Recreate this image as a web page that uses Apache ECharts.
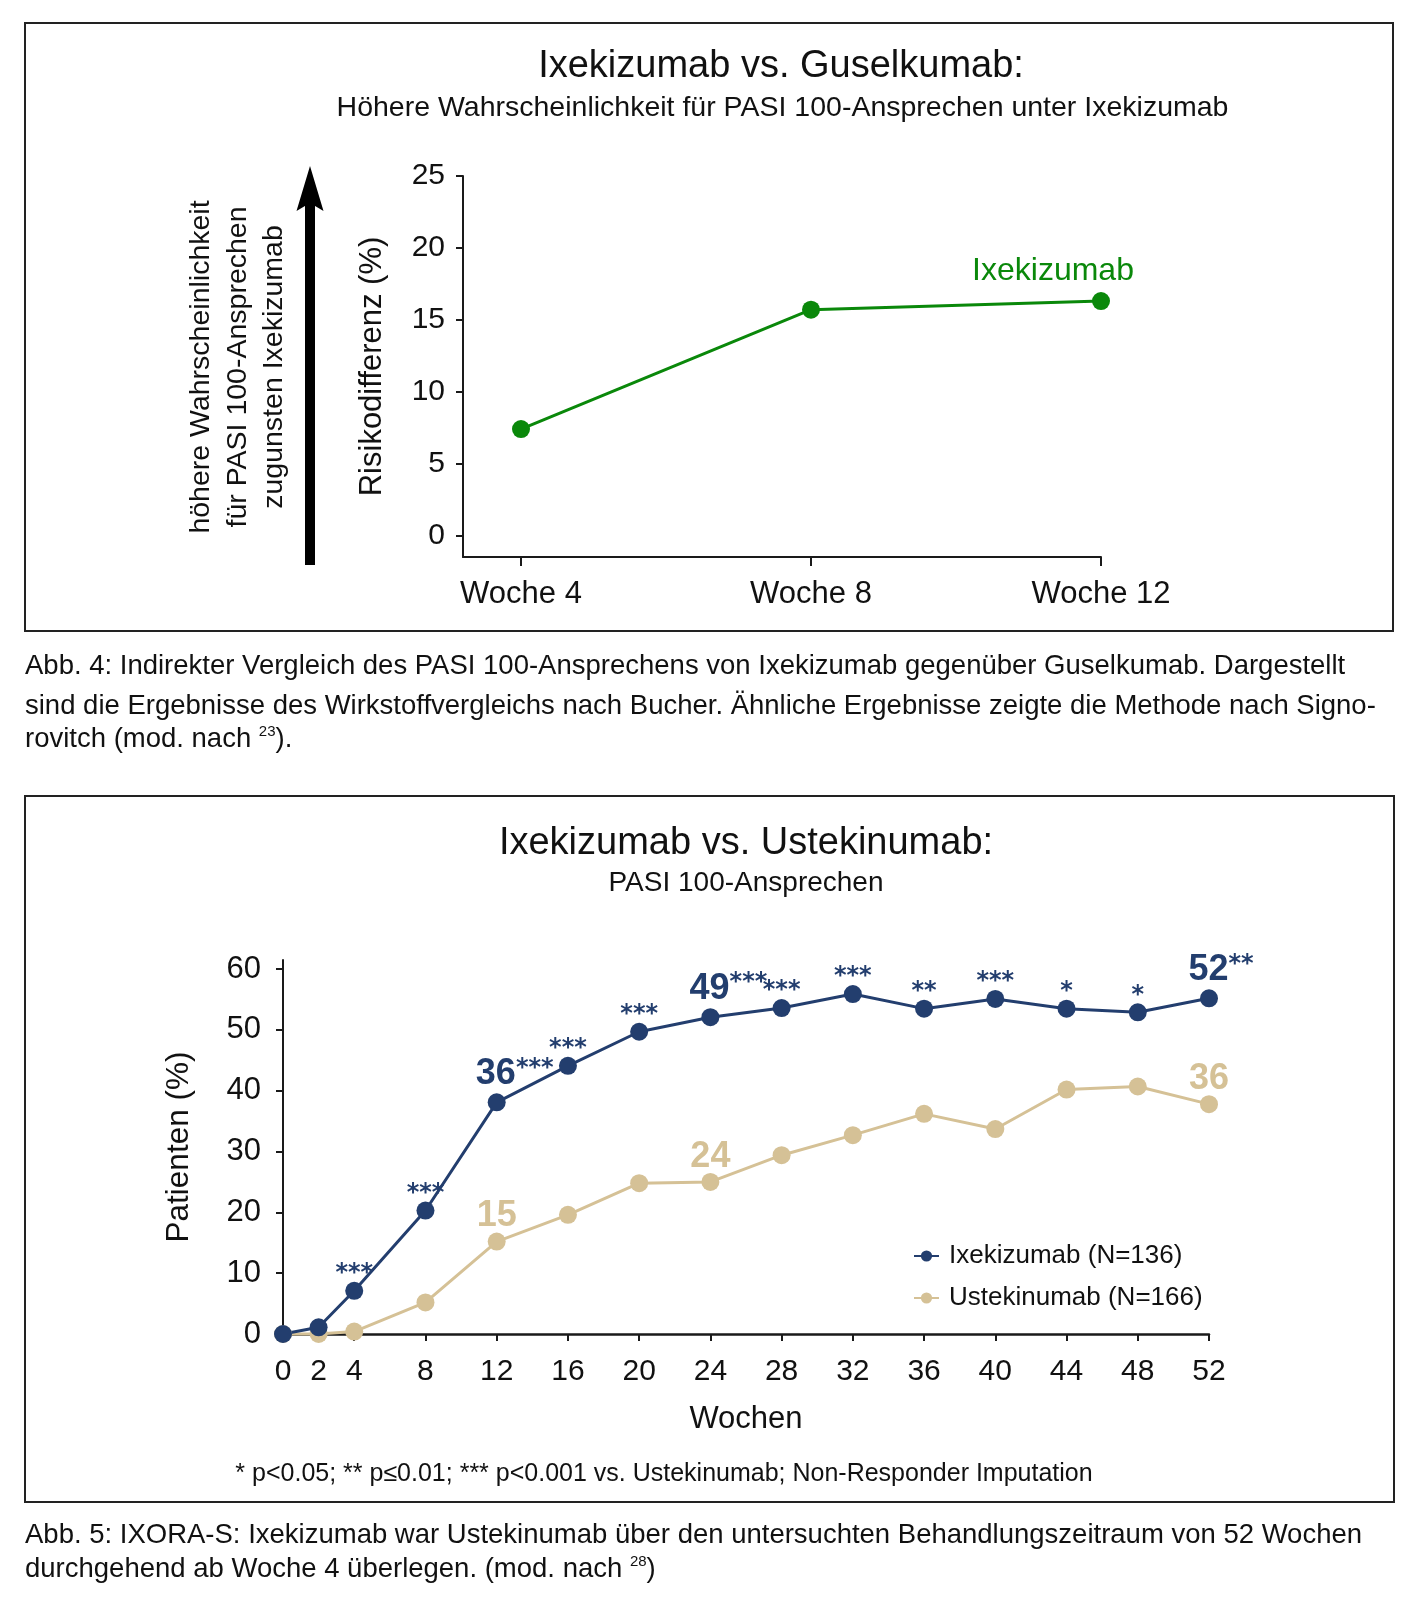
<!DOCTYPE html>
<html>
<head>
<meta charset="utf-8">
<script src="https://cdn.jsdelivr.net/npm/echarts@6/dist/echarts.min.js"></script>
<style>
  html, body { margin: 0; padding: 0; background: #ffffff; }
  #chart { width: 1424px; height: 1600px; }
</style>
</head>
<body>
<div id="chart"></div>
<script>
// ---- Figure 4 data (Ixekizumab vs. Guselkumab) ----
const topCategories = ['Woche 4', 'Woche 8', 'Woche 12'];
const topWeeks = [4, 8, 12];
const riskDiff = [7.4, 15.7, 16.3];
const topPointLabels = ['', '', 'Ixekizumab'];
const topYTicks = [0, 5, 10, 15, 20, 25];

// ---- Figure 5 data (Ixekizumab vs. Ustekinumab) ----
const weeks = [0, 2, 4, 8, 12, 16, 20, 24, 28, 32, 36, 40, 44, 48, 52];
const ixeValues = [0, 1.1, 7.1, 20.3, 38.1, 44.1, 49.7, 52.1, 53.6, 55.9, 53.5, 55.1, 53.5, 52.9, 55.2];
const ustValues = [0, 0, 0.4, 5.2, 15.2, 19.6, 24.8, 25.0, 29.4, 32.7, 36.2, 33.7, 40.2, 40.7, 37.8];
const ixeStars = ['', '', '***', '***', '***', '***', '***', '***', '***', '***', '**', '***', '*', '*', '**'];
const ixeCallouts = ['', '', '', '', '36', '', '', '49', '', '', '', '', '', '', '52'];
const ustCallouts = ['', '', '', '', '15', '', '', '24', '', '', '', '', '', '', '36'];
const bottomYTicks = [0, 10, 20, 30, 40, 50, 60];
const ixeName = 'Ixekizumab (N=136)';
const ustName = 'Ustekinumab (N=166)';

// ---- Texts ----
const title4 = 'Ixekizumab vs. Guselkumab:';
const subtitle4 = 'Höhere Wahrscheinlichkeit für PASI 100-Ansprechen unter Ixekizumab';
const arrowText = ['höhere Wahrscheinlichkeit', 'für PASI 100-Ansprechen', 'zugunsten Ixekizumab'];
const title5 = 'Ixekizumab vs. Ustekinumab:';
const subtitle5 = 'PASI 100-Ansprechen';
const footnote5 = '* p<0.05; ** p≤0.01; *** p<0.001 vs. Ustekinumab; Non-Responder Imputation';
const caption4 = [
  'Abb. 4: Indirekter Vergleich des PASI 100-Ansprechens von Ixekizumab gegenüber Guselkumab. Dargestellt',
  'sind die Ergebnisse des Wirkstoffvergleichs nach Bucher. Ähnliche Ergebnisse zeigte die Methode nach Signo-'
];
const caption4Last = ['rovitch (mod. nach ', '23', ').'];
const caption5 = ['Abb. 5: IXORA-S: Ixekizumab war Ustekinumab über den untersuchten Behandlungszeitraum von 52 Wochen'];
const caption5Last = ['durchgehend ab Woche 4 überlegen. (mod. nach ', '28', ')'];

const FONT = '"Liberation Sans", Arial, Helvetica, sans-serif';
const STARFONT = '"DejaVu Sans", "Liberation Sans", sans-serif';
const GREEN = '#0a880a';
const NAVY = '#233e6e';
const TAN = '#d5c196';
const INK = '#111111';
const AXIS = '#1a1a1a';
const STAR_SIZE = 24;
const STAR_W = STAR_SIZE * 0.5;

const chart = echarts.init(document.getElementById('chart'), null, { renderer: 'canvas' });

function txt(x, y, text, size, opts) {
  opts = opts || {};
  return {
    type: 'text', x: x, y: y, rotation: opts.rotation || 0, z: 10,
    style: {
      text: text, fontSize: size, fontFamily: FONT, fill: opts.fill || INK,
      fontWeight: opts.weight || 'normal',
      align: opts.align || 'center', verticalAlign: 'middle',
      rich: opts.rich
    }
  };
}

const graphics = [
  { type: 'rect', shape: { x: 25, y: 23, width: 1368, height: 608 }, style: { fill: 'none', stroke: '#222', lineWidth: 2 }, z: 1 },
  { type: 'rect', shape: { x: 25, y: 796, width: 1369, height: 706 }, style: { fill: 'none', stroke: '#222', lineWidth: 2 }, z: 1 },
  txt(781, 67, title4, 38),
  txt(782.5, 108, subtitle4, 28.5),
  txt(746, 844, title5, 38),
  txt(746, 883, subtitle5, 28),
  txt(664, 1474, footnote5, 25),
  // arrow
  { type: 'line', shape: { x1: 310, y1: 565, x2: 310, y2: 200 }, style: { stroke: '#000', lineWidth: 10 }, z: 5 },
  { type: 'polygon', shape: { points: [[310, 166], [323.5, 211], [310, 203], [296.5, 211]] }, style: { fill: '#000' }, z: 5 },
  txt(201, 367, arrowText[0], 28.5, { rotation: Math.PI / 2 }),
  txt(238, 367, arrowText[1], 28.5, { rotation: Math.PI / 2 }),
  txt(274, 367, arrowText[2], 28.5, { rotation: Math.PI / 2 })
];

const capY4 = [666, 706];
caption4.forEach(function (line, i) {
  graphics.push(txt(25, capY4[i], line, 27.5, { align: 'left' }));
});
graphics.push(txt(25, 739, '{t|' + caption4Last[0] + '}{s|' + caption4Last[1] + '}{t|' + caption4Last[2] + '}', 27.5, {
  align: 'left',
  rich: {
    t: { fontSize: 27.5, fontFamily: FONT, fill: INK, lineHeight: 30 },
    s: { fontSize: 15, fontFamily: FONT, fill: INK, lineHeight: 17, verticalAlign: 'top' }
  }
}));
caption5.forEach(function (line, i) {
  graphics.push(txt(25, 1535 + i * 34, line, 27.5, { align: 'left' }));
});
graphics.push(txt(25, 1569, '{t|' + caption5Last[0] + '}{s|' + caption5Last[1] + '}{t|' + caption5Last[2] + '}', 27.5, {
  align: 'left',
  rich: {
    t: { fontSize: 27.5, fontFamily: FONT, fill: INK, lineHeight: 30 },
    s: { fontSize: 15, fontFamily: FONT, fill: INK, lineHeight: 17, verticalAlign: 'top' }
  }
}));

const topData = topWeeks.map(function (w, i) {
  return { value: [w, riskDiff[i]] };
});

const ixeData = weeks.map(function (w, i) {
  const item = { value: [w, ixeValues[i]] };
  if (ixeCallouts[i]) {
    item.label = { offset: [ixeStars[i].length * STAR_W / 2, -6] };
  }
  return item;
});
const ustData = weeks.map(function (w, i) {
  return { value: [w, ustValues[i]] };
});

const option = {
  animation: false,
  backgroundColor: '#ffffff',
  textStyle: { fontFamily: FONT },
  graphic: graphics,
  legend: {
    data: [ixeName, ustName],
    orient: 'vertical',
    left: 908, top: 1238,
    itemWidth: 25, itemHeight: 14, itemGap: 16,
    textStyle: { fontSize: 26, color: INK, fontFamily: FONT, padding: [0, 0, 0, 5] }
  },
  grid: [
    { left: 463, right: 323, top: 176, bottom: 1043, containLabel: false },
    { left: 283, right: 215, top: 960, bottom: 266, containLabel: false }
  ],
  xAxis: [
    {
      gridIndex: 0, type: 'value', min: 3.2, max: 12,
      axisLine: { show: true, onZero: false, lineStyle: { color: AXIS, width: 2 } },
      axisTick: { show: true, customValues: topWeeks, length: 9, lineStyle: { color: AXIS, width: 2 } },
      axisLabel: {
        customValues: topWeeks, fontSize: 31, color: INK, margin: 22, fontFamily: FONT,
        formatter: function (v) { return topCategories[topWeeks.indexOf(v)]; }
      },
      splitLine: { show: false }
    },
    {
      gridIndex: 1, type: 'value', min: 0, max: 52,
      name: 'Wochen', nameLocation: 'middle', nameGap: 70,
      nameTextStyle: { fontSize: 31, color: INK, fontFamily: FONT },
      axisLine: { show: true, lineStyle: { color: AXIS, width: 2.5 } },
      axisTick: { show: true, customValues: weeks, length: 7, lineStyle: { color: AXIS, width: 2 } },
      axisLabel: { customValues: weeks, fontSize: 30, color: INK, margin: 23, fontFamily: FONT },
      splitLine: { show: false }
    }
  ],
  yAxis: [
    {
      gridIndex: 0, type: 'value', min: -1.5, max: 25,
      name: 'Risikodifferenz (%)', nameLocation: 'middle', nameGap: 75,
      nameTextStyle: { fontSize: 31, color: INK, fontFamily: FONT },
      axisLine: { show: true, lineStyle: { color: AXIS, width: 2 } },
      axisTick: { show: true, customValues: topYTicks, length: 7, lineStyle: { color: AXIS, width: 2 } },
      axisLabel: { customValues: topYTicks, fontSize: 30, color: INK, margin: 18, fontFamily: FONT },
      splitLine: { show: false }
    },
    {
      gridIndex: 1, type: 'value', min: 0, max: 61.5,
      name: 'Patienten (%)', nameLocation: 'middle', nameGap: 88,
      nameTextStyle: { fontSize: 31.5, color: INK, fontFamily: FONT },
      axisLine: { show: true, lineStyle: { color: AXIS, width: 2 } },
      axisTick: { show: true, customValues: bottomYTicks, length: 7, lineStyle: { color: AXIS, width: 2 } },
      axisLabel: { customValues: bottomYTicks, fontSize: 31, color: INK, margin: 22, fontFamily: FONT },
      splitLine: { show: false }
    }
  ],
  series: [
    {
      name: 'Ixekizumab', type: 'line', xAxisIndex: 0, yAxisIndex: 0,
      data: topData, clip: false,
      symbol: 'circle', symbolSize: 18,
      lineStyle: { color: GREEN, width: 3 },
      itemStyle: { color: GREEN },
      label: {
        show: true, position: 'top', distance: 5, offset: [-48, 0],
        fontSize: 32, color: GREEN, fontFamily: FONT,
        formatter: function (p) { return topPointLabels[p.dataIndex]; }
      }
    },
    {
      name: ustName, type: 'line', xAxisIndex: 1, yAxisIndex: 1,
      data: ustData, clip: false,
      symbol: 'circle', symbolSize: 18,
      lineStyle: { color: TAN, width: 3 },
      itemStyle: { color: TAN },
      label: {
        show: true, position: 'top', distance: -2,
        fontSize: 36, fontWeight: 'bold', color: TAN, fontFamily: FONT,
        formatter: function (p) { return ustCallouts[p.dataIndex]; }
      }
    },
    {
      name: ixeName, type: 'line', xAxisIndex: 1, yAxisIndex: 1,
      data: ixeData, clip: false,
      symbol: 'circle', symbolSize: 18,
      lineStyle: { color: NAVY, width: 3 },
      itemStyle: { color: NAVY },
      label: {
        show: true, position: 'top', distance: -5,
        fontFamily: FONT,
        formatter: function (p) {
          const i = p.dataIndex;
          if (ixeCallouts[i]) return '{b|' + ixeCallouts[i] + '}{s|' + ixeStars[i] + '}';
          if (ixeStars[i]) return '{a|' + ixeStars[i] + '}';
          return '';
        },
        rich: {
          a: { fontSize: STAR_SIZE, fontWeight: 'bold', color: NAVY, lineHeight: 26, fontFamily: STARFONT },
          b: { fontSize: 36, fontWeight: 'bold', color: NAVY, lineHeight: 36, fontFamily: FONT },
          s: { fontSize: STAR_SIZE, fontWeight: 'bold', color: NAVY, lineHeight: 22, verticalAlign: 'top', fontFamily: STARFONT }
        }
      }
    }
  ]
};

chart.setOption(option);
</script>
</body>
</html>
